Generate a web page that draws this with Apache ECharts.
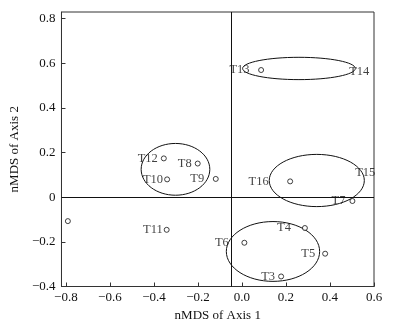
<!DOCTYPE html>
<html>
<head>
<meta charset="utf-8">
<script src="https://cdn.jsdelivr.net/npm/echarts@6/dist/echarts.min.js"></script>
<style>
  html, body { margin: 0; padding: 0; background: #fff; }
  #chart { width: 409px; height: 331px; }
</style>
</head>
<body>
<div id="chart"></div>
<script>
// nMDS site scores
const siteNames = ['T3', 'T4', 'T5', 'T6', 'T7', 'T8', 'T9', 'T10', 'T11', 'T12', 'T13', 'T14', 'T15', 'T16', ''];
const axis1 = [0.178, 0.286, 0.378, 0.011, 0.502, -0.201, -0.119, -0.340, -0.342, -0.355, 0.087, 0.533, 0.560, 0.219, -0.791];
const axis2 = [-0.355, -0.138, -0.253, -0.204, -0.017, 0.151, 0.082, 0.080, -0.146, 0.174, 0.570, 0.564, 0.111, 0.071, -0.107];

// group ellipses: centre and half-axes in axis units
const ellipseX = [-0.302, 0.141, 0.340, 0.259];
const ellipseY = [0.125, -0.243, 0.075, 0.577];
const ellipseRx = [0.156, 0.212, 0.216, 0.256];
const ellipseRy = [0.116, 0.134, 0.117, 0.050];

// reference lines
const refX = -0.052;
const refY = 0;

const xTicks = [-0.8, -0.6, -0.4, -0.2, 0, 0.2, 0.4, 0.6];
const xTickLabels = ['\u22120.8', '\u22120.6', '\u22120.4', '\u22120.2', '0.0', '0.2', '0.4', '0.6'];
const yTicks = [-0.4, -0.2, 0, 0.2, 0.4, 0.6, 0.8];
const yTickLabels = ['\u22120.4', '\u22120.2', '0', '0.2', '0.4', '0.6', '0.8'];

// label layout (gap between point and its label)
const labelGap = { T3: 3, T4: 11, T5: 7, T6: 12.5, T7: 4, T8: 3, T9: 8.5, T10: 1, T11: 1, T12: 3, T13: 8.5, T16: 18.5 };
const labelOnly = ['T14', 'T15'];

const font = 'Liberation Serif';
const ink = '#111';

function tickText(ticks, labels) {
  return function (v) {
    let best = 0;
    ticks.forEach(function (t, i) {
      if (Math.abs(t - v) < Math.abs(ticks[best] - v)) best = i;
    });
    return Math.abs(ticks[best] - v) < 1e-6 ? labels[best] : '';
  };
}

const points = siteNames.map(function (n, i) {
  const item = { name: n, value: [axis1[i], axis2[i]] };
  if (labelOnly.indexOf(n) >= 0) {
    item.symbolSize = 0;
    item.label = { position: 'inside' };
  } else {
    item.label = { distance: labelGap[n] || 3 };
  }
  return item;
});

const ellipses = ellipseX.map(function (x, i) {
  return [x, ellipseY[i], ellipseRx[i], ellipseRy[i]];
});

const chart = echarts.init(document.getElementById('chart'));
chart.setOption({
  animation: false,
  grid: {
    left: 59, right: 35, top: 12, bottom: 44.5,
    show: true, borderColor: '#333', borderWidth: 1
  },
  xAxis: {
    type: 'value',
    min: -0.82, max: 0.6,
    name: 'nMDS of Axis 1',
    nameLocation: 'middle',
    nameGap: 22,
    nameTextStyle: { fontFamily: font, fontSize: 13, color: ink },
    axisLine: { onZero: false, lineStyle: { color: '#333' } },
    axisTick: { inside: true, length: 4, customValues: xTicks, lineStyle: { color: '#333' } },
    axisLabel: {
      customValues: xTicks, margin: 5,
      fontFamily: font, fontSize: 13, color: ink,
      formatter: tickText(xTicks, xTickLabels)
    },
    splitLine: { show: false }
  },
  yAxis: {
    type: 'value',
    min: -0.4, max: 0.83,
    name: 'nMDS of Axis 2',
    nameLocation: 'middle',
    nameGap: 28,
    nameTextStyle: { fontFamily: font, fontSize: 13, color: ink },
    axisLine: { onZero: false, lineStyle: { color: '#333' } },
    axisTick: { inside: true, length: 4, customValues: yTicks, lineStyle: { color: '#333' } },
    axisLabel: {
      customValues: yTicks, margin: 6,
      fontFamily: font, fontSize: 13, color: ink,
      formatter: tickText(yTicks, yTickLabels)
    },
    splitLine: { show: false }
  },
  series: [
    {
      type: 'custom',
      data: ellipses,
      renderItem: function (params, api) {
        const c = api.coord([api.value(0), api.value(1)]);
        const s = api.size([api.value(2), api.value(3)]);
        return {
          type: 'ellipse',
          shape: { cx: c[0], cy: c[1], rx: s[0], ry: s[1] },
          style: { fill: 'none', stroke: ink, lineWidth: 1 }
        };
      },
      silent: true,
      z: 2
    },
    {
      type: 'scatter',
      data: points,
      symbol: 'circle',
      symbolSize: 5,
      itemStyle: { color: '#fff', borderColor: ink, borderWidth: 1 },
      label: {
        show: true,
        position: 'left',
        formatter: '{b}',
        fontFamily: font, fontSize: 12.5, color: ink
      },
      markLine: {
        silent: true,
        symbol: 'none',
        label: { show: false },
        lineStyle: { color: ink, width: 1, type: 'solid' },
        data: [{ xAxis: refX }, { yAxis: refY }]
      },
      z: 3
    }
  ]
});
</script>
</body>
</html>
